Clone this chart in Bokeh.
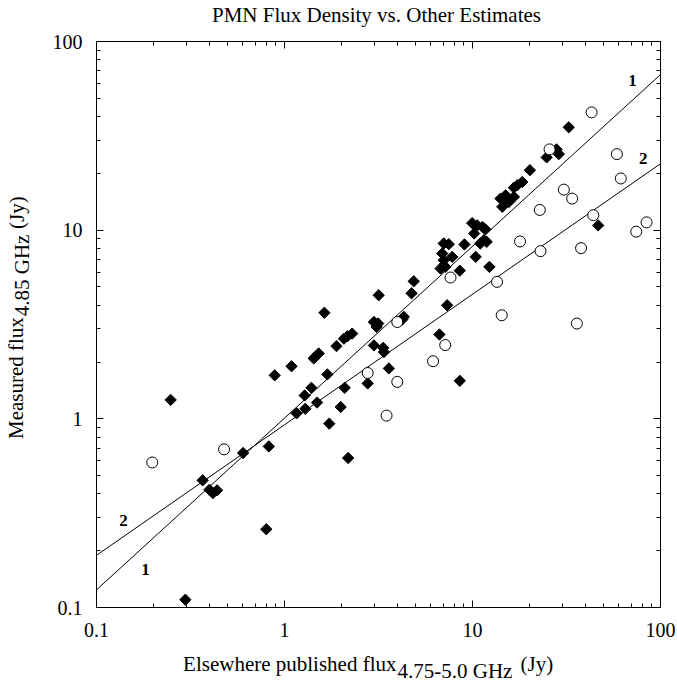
import numpy as np
from bokeh.plotting import figure
from bokeh.layouts import column, row
from bokeh.models import Label, LogAxis, FixedTicker, CustomJSTickFormatter
from bokeh.embed import file_html
from bokeh.resources import INLINE

# ---------------- data ----------------
diamond_x = [0.248, 0.367, 0.399, 0.416, 0.438, 0.602, 0.825, 0.80, 0.297,
             1.16, 1.28, 1.29, 1.39, 1.49, 0.887, 1.09,
             4.87, 3.17, 4.74, 1.63, 2.99, 3.15, 3.09, 4.31, 4.23,
             2.29, 2.16, 2.07, 1.89, 1.52, 1.46, 1.43, 2.99, 3.35, 3.38,
             1.69, 3.59, 2.09, 2.77, 1.99, 1.73, 2.18, 8.56, 7.33, 6.67,
             7.03, 7.48, 6.90, 7.03, 6.76, 7.18, 7.80, 9.06, 8.56, 10.4, 12.3,
             9.96, 10.6, 11.3, 11.7, 10.2, 11.5, 11.9, 11.0,
             14.1, 15.0, 15.6, 14.4, 16.6,
             20.2, 18.4, 17.3, 16.6,
             24.8, 28.0, 28.8, 32.5, 46.6]
diamond_y = [1.26, 0.472, 0.421, 0.404, 0.418, 0.659, 0.714, 0.26, 0.11,
             1.07, 1.33, 1.13, 1.46, 1.22, 1.70, 1.90,
             5.36, 4.52, 4.63, 3.65, 3.26, 3.20, 3.07, 3.47, 3.36,
             2.83, 2.74, 2.66, 2.43, 2.22, 2.13, 2.09, 2.45, 2.38, 2.26,
             1.72, 1.85, 1.46, 1.54, 1.155, 0.943, 0.62, 1.59, 4.0, 2.80,
             8.50, 8.43, 7.52, 6.93, 6.26, 6.39, 7.22, 8.40, 6.10, 7.22, 6.39,
             10.9, 10.6, 10.4, 10.1, 9.6, 8.85, 8.67, 8.5,
             14.7, 15.3, 14.1, 13.3, 15.0,
             20.8, 18.0, 17.3, 16.8,
             24.3, 26.8, 25.3, 35.1, 10.6]

circle_x = [0.198, 0.477, 3.98, 2.77, 3.98, 3.49, 6.17, 7.16, 7.64, 13.5,
            14.3, 17.9, 23.0, 22.8, 30.6, 33.9, 37.8, 35.9, 43.9, 43.0,
            25.7, 58.6, 61.5, 84.3, 74.3]
circle_y = [0.587, 0.689, 3.26, 1.75, 1.57, 1.04, 2.02, 2.46, 5.61, 5.32,
            3.54, 8.71, 7.74, 12.8, 16.4, 14.7, 8.03, 3.20, 12.0, 42.1,
            26.8, 25.3, 18.8, 11.0, 9.82]

fit_x = [0.1, 100.0]
fit1_y = [0.124, 66.8]
fit2_y = [0.189, 22.5]

major_ticks = [0.1, 1, 10, 100]
minor_ticks = [m * d for d in (0.1, 1, 10) for m in range(2, 10)]

title_text = "PMN Flux Density vs. Other Estimates"
xlabel_parts = ["Elsewhere published flux", "4.75-5.0 GHz", " (Jy)"]
ylabel_parts = ["Measured flux", "4.85 GHz", " (Jy)"]

# ---------------- layout constants (canvas pixels) ----------------
W, H = 677, 684
FL, FR, FT, FB = 96, 660, 41, 607      # plot frame in the whole window
TITLE_H = 30                            # strip holding the title
XLAB_H = 38                             # strip holding the x label
YLAB_W = 40                             # strip holding the y label
MAIN_W = W - YLAB_W
MAIN_H = H - TITLE_H - XLAB_H
SERIF = "Liberation Serif"
LFS = "21px"


def strip(w, h):
    f = figure(width=w, height=h, x_range=(0, w), y_range=(0, h),
               x_axis_location=None, y_axis_location=None,
               output_backend="svg", toolbar_location=None,
               min_border=0, outline_line_color=None)
    f.xgrid.visible = False
    f.ygrid.visible = False
    f.background_fill_color = "white"
    f.border_fill_color = "white"
    return f


# ---------------- main plot ----------------
p = figure(width=MAIN_W, height=MAIN_H, x_axis_type="log", y_axis_type="log",
           x_range=(0.1, 100), y_range=(0.1, 100),
           output_backend="svg", toolbar_location=None,
           min_border_left=FL - YLAB_W, min_border_right=W - FR,
           min_border_top=FT - TITLE_H, min_border_bottom=MAIN_H - (FB - TITLE_H))
p.xgrid.visible = False
p.ygrid.visible = False
p.outline_line_color = "black"
p.background_fill_color = "white"
p.border_fill_color = "white"

ticker = FixedTicker(ticks=major_ticks, minor_ticks=minor_ticks)
fmt = CustomJSTickFormatter(code="return String(Math.round(tick*1000)/1000);")

for ax, standoff in ((p.xaxis[0], 15), (p.yaxis[0], 14)):
    ax.ticker = ticker
    ax.formatter = fmt
    ax.major_tick_in = 7
    ax.major_tick_out = 0
    ax.minor_tick_in = 4
    ax.minor_tick_out = 0
    ax.axis_line_color = "black"
    ax.major_tick_line_color = "black"
    ax.minor_tick_line_color = "black"
    ax.major_label_text_font = SERIF
    ax.major_label_text_font_size = "20px"
    ax.major_label_text_color = "black"
    ax.major_label_standoff = standoff

for loc in ("above", "right"):
    ax = LogAxis(ticker=ticker,
                 formatter=CustomJSTickFormatter(code="return '';"),
                 major_tick_in=7, major_tick_out=0,
                 minor_tick_in=4, minor_tick_out=0,
                 axis_line_color="black", major_tick_line_color="black",
                 minor_tick_line_color="black",
                 major_label_text_font_size="1px", major_label_standoff=0)
    p.add_layout(ax, loc)

p.line(fit_x, fit1_y, line_color="black", line_width=1)
p.line(fit_x, fit2_y, line_color="black", line_width=1)

p.scatter(diamond_x, diamond_y, marker="square", angle=np.pi / 4, size=8,
          fill_color="black", line_color="black")
p.scatter(circle_x, circle_y, marker="circle", size=11,
          fill_color="white", line_color="black", line_width=1)

for txt, lx, ly in (("1", 71, 62.5), ("2", 81, 24), ("2", 0.139, 0.29), ("1", 0.182, 0.159)):
    p.add_layout(Label(x=lx, y=ly, text=txt, text_align="center",
                       text_baseline="middle", text_font=SERIF, text_color="black",
                       text_font_style="bold", text_font_size="17px"))

# ---------------- title strip ----------------
t = strip(W, TITLE_H)
t.add_layout(Label(x=(FL + FR) / 2 - 2, y=TITLE_H - 14, text=title_text,
                   text_align="center", text_baseline="middle",
                   text_font=SERIF, text_font_size=LFS, text_color="black"))

# ---------------- y label strip (rotated text) ----------------
yl = strip(YLAB_W, MAIN_H)


def ypos(canvas_y):
    return MAIN_H - (canvas_y - TITLE_H)


for txt, bx, cy, al in ((ylabel_parts[0], 15, 330, "right"),
                        (ylabel_parts[1], 21, 329, "left"),
                        (ylabel_parts[2], 16, 234, "left")):
    yl.add_layout(Label(x=bx, y=ypos(cy), text=txt, angle=np.pi / 2,
                        text_align=al, text_baseline="alphabetic",
                        text_font=SERIF, text_font_size=LFS, text_color="black"))

# ---------------- x label strip ----------------
xl = strip(W, XLAB_H)
x_top = H - XLAB_H
for txt, cx, cy, al in ((xlabel_parts[0], 396, 663, "right"),
                        (xlabel_parts[1], 397, 670, "left"),
                        (xlabel_parts[2], 520, 663, "left")):
    xl.add_layout(Label(x=cx, y=XLAB_H - (cy - x_top), text=txt,
                        text_align=al, text_baseline="alphabetic",
                        text_font=SERIF, text_font_size=LFS, text_color="black"))

layout = column(t, row(yl, p), xl, spacing=0)
open("out.html", "w").write(file_html(layout, INLINE))
